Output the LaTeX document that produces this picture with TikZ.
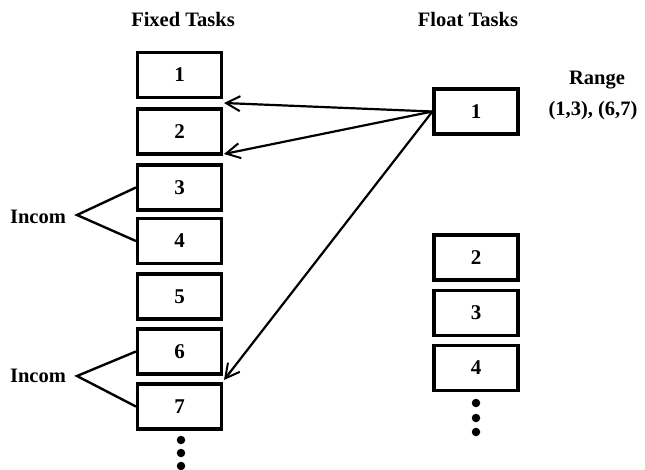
\documentclass[tikz,border=0pt]{standalone}
\usepackage{fontspec}
\setmainfont{Liberation Serif}
\usetikzlibrary{arrows.meta}
\begin{document}
\begin{tikzpicture}[x=1pt,y=-1pt,
  taskbox/.style={draw,line width=3.2pt,minimum width=84pt,minimum height=45pt,
    inner sep=0pt,font=\fontsize{21}{25}\selectfont\bfseries},
  lbl/.style={inner sep=0pt,font=\fontsize{20.5}{24}\selectfont\bfseries},
  link/.style={line width=2.2pt,-{Straight Barb[length=14pt,width=15pt,line width=2pt]}},
  incom/.style={line width=2.4pt},
  dot/.style={fill,circle,inner sep=0pt,minimum size=8.5pt}]
\useasboundingbox (0,0) rectangle (645,469);

% column headings
\node[lbl] (hfix) at (183,19) {Fixed Tasks};
\node[lbl] (hflo) at (468,19) {Float Tasks};

% fixed tasks
\foreach \i/\y in {1/75,2/131.5,3/187.5,4/241,5/296.5,6/351.5,7/406.5}
  \node[taskbox] (x\i) at (179.5,\y) {\i};
\node[dot] (xd1) at (181,440) {};
\node[dot] (xd2) at (181,453) {};
\node[dot] (xd3) at (181,466) {};

% float tasks
\foreach \i/\y in {1/111.5,2/257.5,3/313,4/368}
  \node[taskbox] (f\i) at (476,\y) {\i};
\node[dot] (fd1) at (476,403) {};
\node[dot] (fd2) at (476,418) {};
\node[dot] (fd3) at (476,432) {};

% range of float task 1
\node[lbl] (rng) at (597,80) {Range};
\node[lbl] (rngv) at (593,111) {(1,3), (6,7)};

% allowed insertion points
\coordinate (t1) at (224,103);
\coordinate (t2) at (224,154);
\coordinate (t3) at (224,380);
\draw[link] (f1.west) -- (t1);
\draw[link] (f1.west) -- (t2);
\draw[link] (f1.west) -- (t3);

% incompatible pairs
\node[lbl] (inc1) at (38,217) {Incom};
\node[lbl] (inc2) at (38,376) {Incom};
\coordinate (a1) at (77,215);
\coordinate (a2) at (77,376);
\draw[incom] (x3.west) -- (a1) -- (x4.west);
\draw[incom] (x6.west) -- (a2) -- (x7.west);
\end{tikzpicture}
\end{document}
